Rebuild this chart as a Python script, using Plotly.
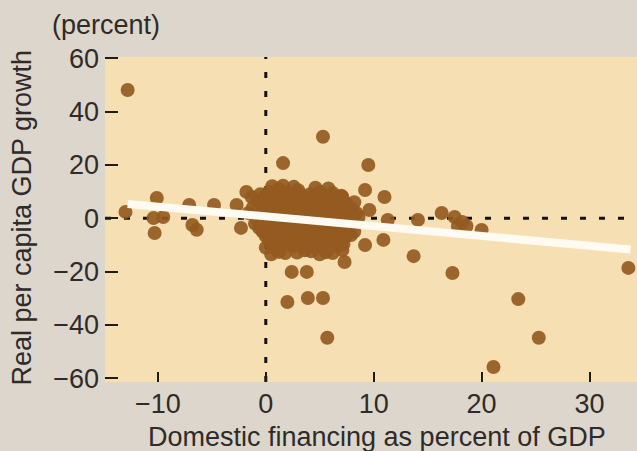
import plotly.graph_objects as go

# Domestic financing (% of GDP) vs. real per capita GDP growth (%), one point per country-year
fin_pct = [
    -12.8, -13.0, -10.1, -10.4, -10.3, -9.5, -7.1, -6.8, -6.4, -4.8, -2.7, -2.3, -1.8,
    1.6, 5.3, 9.5, 9.2, 11.0, 7.1, 9.6, 8.4, 7.9, 9.2, 10.9, 7.1, 13.7, 7.3,
    2.4, 3.8, 2.0, 3.9, 5.3, 5.7,
    11.3, 14.1, 16.3, 17.5, 18.2, 17.8, 18.6, 20.0, 17.3, 21.1, 25.3, 23.4, 33.6,
    # dense group near zero
    -0.5, 0.3, 1.2, 2.0, 3.0, 4.1, 5.0, 6.2, 7.0,
    -0.8, 0.5, 1.5, 2.5, 3.5, 4.5, 5.5, 6.5, 7.5,
    -1.2, 0.0, 1.0, 2.0, 3.0, 4.0, 5.0, 6.0, 7.0, 8.0,
    -0.5, 0.6, 1.7, 2.7, 3.8, 4.8, 5.8, 6.8, 7.8,
    -1.0, 0.2, 1.2, 2.2, 3.2, 4.2, 5.2, 6.2, 7.2,
    -0.3, 0.8, 1.8, 2.8, 3.8, 4.8, 5.8, 6.8, 8.2,
    0.3, 1.3, 2.3, 3.3, 4.3, 5.3, 6.3, 7.0,
    0.0, 1.0, 2.5, 3.6, 4.6, 5.6, 6.6,
    0.5, 1.8, 5.0, 6.2,
    -1.3, 0.0, 1.0, 2.2, 3.3, 4.3, 5.4, 6.6,
    0.6, 1.6, 2.6, 4.6, 5.8,
    -0.2, 1.0, 2.0, 3.0, 4.0, 5.0, 6.0, 7.0, 8.2,
    -1.6, -0.4, 0.8, 1.9, 3.1, 4.2, 5.3, 6.4, 7.5, 8.6,
    -0.8, 0.1, 1.1, 2.1, 3.2, 4.3, 5.4, 6.4, 7.5,
    -0.6, 0.6, 1.6, 2.6, 3.6, 4.6, 5.6, 6.6, 7.7,
    0.0, 1.1, 2.1, 3.1, 4.1, 5.1, 6.1, 7.4,
    0.8, 1.8, 3.0, 4.0, 5.0, 6.0, 7.2,
    1.2, 2.9, 4.2, 5.6,
]
gdp_growth = [
    48.1, 2.4, 7.6, 0.1, -5.5, 0.5, 5.0, -2.5, -4.3, 5.0, 5.0, -3.6, 9.9,
    20.7, 30.6, 20.0, 10.6, 8.0, 8.0, 3.1, 2.0, -6.3, -10.0, -8.1, -11.9, -14.2, -16.4,
    -20.1, -20.1, -31.4, -29.9, -29.9, -44.8,
    -0.6, -0.6, 2.0, 0.5, -1.4, -2.9, -2.9, -4.4, -20.5, -55.8, -44.8, -30.3, -18.6,
    9.0, 10.0, 11.0, 9.5, 10.5, 9.0, 10.0, 9.5, 8.5,
    6.5, 7.0, 6.0, 7.5, 6.5, 7.0, 6.0, 7.0, 5.5,
    4.0, 3.5, 4.5, 3.0, 4.0, 3.5, 4.5, 3.0, 4.0, 3.5,
    1.0, 0.5, 1.5, 0.0, 1.0, 0.5, 1.5, 0.0, 1.0,
    -2.0, -2.5, -1.5, -3.0, -2.0, -2.5, -1.5, -3.0, -2.0,
    -5.0, -5.5, -4.5, -6.0, -5.0, -5.5, -4.5, -6.0, -5.0,
    -8.0, -8.5, -7.5, -9.0, -8.0, -8.5, -7.5, -9.0,
    -11.0, -11.5, -10.5, -12.0, -11.0, -11.5, -10.5,
    -13.5, -13.0, -13.5, -13.0,
    8.0, 8.5, 8.8, 8.2, 8.6, 8.0, 8.4, 8.0,
    12.0, 12.2, 11.8, 11.5, 11.2,
    5.5, 5.2, 5.8, 5.3, 5.6, 5.0, 5.4, 5.0, 6.0,
    2.0, 2.5, 2.2, 2.4, 2.0, 2.2, 2.5, 2.0, 2.2, 0.5,
    -0.5, -0.8, -0.3, -0.8, -0.5, -0.7, -0.4, -0.9, -0.6,
    -3.7, -3.8, -3.3, -3.9, -3.5, -3.8, -3.4, -3.9, -3.6,
    -6.7, -6.9, -6.4, -7.0, -6.6, -6.9, -6.4, -6.8,
    -9.8, -10.0, -9.8, -10.2, -9.9, -10.1, -9.6,
    -12.6, -12.8, -12.4, -12.7,
]

# Fitted trend line endpoints
fit_x = [-12.8, 33.8]
fit_y = [5.4, -11.7]

x_range = [-14.9, 34.4]
y_range = [-61.4, 60.5]
x_ticks = [-10, 0, 10, 20, 30]
y_ticks = [-60, -40, -20, 0, 20, 40, 60]

FONT = "Liberation Sans, Arial, sans-serif"
TEXT = "#2e2b28"
DOT = "#945a1f"

fig = go.Figure()

# Zero reference lines (dotted), drawn beneath the points
fig.add_trace(go.Scatter(
    x=x_range, y=[0, 0], mode="lines",
    line=dict(color="#141210", width=3, dash="6px,13px"), hoverinfo="skip",
))
fig.add_trace(go.Scatter(
    x=[0, 0], y=y_range, mode="lines",
    line=dict(color="#141210", width=3, dash="6px,13px"), hoverinfo="skip",
))

fig.add_trace(go.Scatter(
    x=fin_pct, y=gdp_growth, mode="markers",
    marker=dict(size=14, color=DOT, opacity=0.92, line=dict(width=0)),
    hoverinfo="skip",
))

fig.add_trace(go.Scatter(
    x=fit_x, y=fit_y, mode="lines",
    line=dict(color="#fffaf2", width=8), hoverinfo="skip",
))

fig.update_layout(
    width=637, height=451,
    margin=dict(l=105, r=0, t=57, b=69),
    paper_bgcolor="#ddd6cd",
    plot_bgcolor="#f6dfb2",
    showlegend=False,
    font=dict(family=FONT, size=27, color=TEXT),
    xaxis=dict(
        range=x_range, tickvals=x_ticks, showgrid=False, zeroline=False,
        ticks="inside", ticklen=10, tickwidth=2, tickcolor="#1e1c1a",
        tickfont=dict(size=27, color=TEXT), ticklabelstandoff=3,
    ),
    yaxis=dict(
        range=y_range, tickvals=y_ticks, showgrid=False, zeroline=False,
        ticks="inside", ticklen=13, tickwidth=2, tickcolor="#1e1c1a",
        tickfont=dict(size=27, color=TEXT), ticklabelstandoff=5,
    ),
    annotations=[
        dict(text="(percent)", x=0, y=1, xref="paper", yref="paper",
             xanchor="center", yanchor="middle", xshift=1, yshift=32,
             showarrow=False, font=dict(size=27, color=TEXT)),
        dict(text="Real per capita GDP growth", x=0, y=0.506, xref="paper", yref="paper",
             xanchor="center", yanchor="middle", xshift=-83, textangle=-90,
             showarrow=False, font=dict(size=27, color=TEXT)),
        dict(text="Domestic financing as percent of GDP", x=0.511, y=0,
             xref="paper", yref="paper", xanchor="center", yanchor="middle",
             yshift=-55, showarrow=False, font=dict(size=27, color=TEXT)),
    ],
)

fig.write_html("out.html")
